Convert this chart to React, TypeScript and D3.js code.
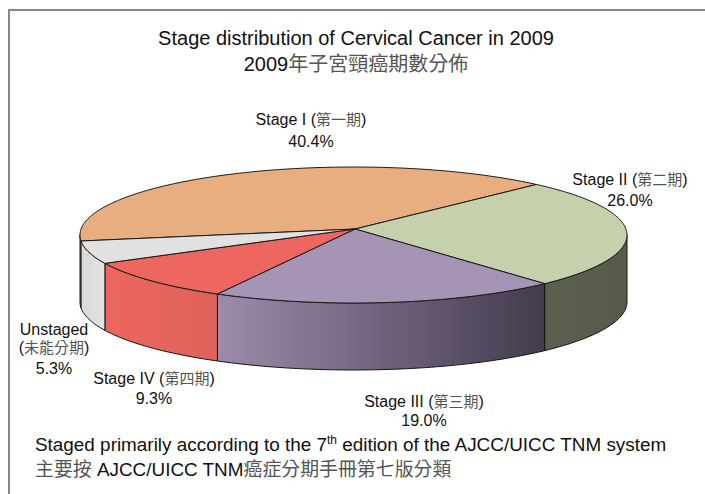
import React from "react";
import * as d3 from "d3";

const stages = ["Stage I", "Stage II", "Stage III", "Stage IV", "Unstaged"];
const shares = [40.4, 26.0, 19.0, 9.3, 5.3];
const topColors = ["#E8AE80", "#C5D1AC", "#A594B6", "#EE6660", "#E1E1E1"];
const sideStart = ["#E8AE80", "#5C6050", "#9C8CAC", "#EE6660", "#D8D8D8"];
const sideEnd = ["#E8AE80", "#565A48", "#433B4D", "#DD625A", "#E4E4E4"];

const W = 705, H = 494;
const cx = 353.5, cy = 235, rx = 273.5, ry = 68, depth = 67;
const apexX = 355, apexY = 229;
const perspective = 1.091;
const startDeg = 80;

const CJK = "#555";
const font = "'Liberation Sans', Arial, 'Noto Sans CJK TC', sans-serif";

const rad = (d: number) => (d * Math.PI) / 180;

// theta: true pie angle, 0 at the point nearest the viewer, growing clockwise on screen
const rim = (theta: number): [number, number] => {
  const psi = 2 * Math.atan2(perspective * Math.sin(theta / 2), Math.cos(theta / 2));
  return [cx - rx * Math.sin(psi), cy + ry * Math.cos(psi)];
};
const limit = 2 * Math.atan(1 / perspective);

const samples = (a0: number, a1: number) => {
  const n = Math.max(2, Math.ceil(((a1 - a0) * 180) / Math.PI));
  return d3.range(n + 1).map((i) => a0 + ((a1 - a0) * i) / n);
};
const line = d3.line<[number, number]>();

const sidePath = (a0: number, a1: number) => {
  const pts = samples(a0, a1);
  const top = pts.map(rim);
  const bot = pts.slice().reverse().map(rim).map(([x, y]) => [x, y + depth] as [number, number]);
  return line([...top, ...bot]) + "Z";
};
const topPath = (a0: number, a1: number) =>
  line([[apexX, apexY], ...samples(a0, a1).map(rim)]) + "Z";

function Label({ x, y, parts }: { x: number; y: number; parts: [string, boolean][] }) {
  return (
    <text x={x} y={y} textAnchor="middle" fontSize={16} fill="#111" fontFamily={font}>
      {parts.map(([t, c], i) => (
        <tspan key={i} fill={c ? CJK : "#111"} fontSize={c ? 15 : 16}>{t}</tspan>
      ))}
    </text>
  );
}

export default function App() {
  const pie = d3.pie<number>().sort(null).startAngle(rad(startDeg)).endAngle(rad(startDeg + 360));
  const slices = pie(shares);

  const sides = slices.flatMap((s, i) => {
    const out: { i: number; a0: number; a1: number }[] = [];
    for (const shift of [0, 2 * Math.PI]) {
      const a0 = Math.max(s.startAngle, -limit + shift);
      const a1 = Math.min(s.endAngle, limit + shift);
      if (a1 > a0) out.push({ i, a0, a1 });
    }
    return out;
  });

  return (
    <svg width={W} height={H} style={{ position: "fixed", left: 0, top: 0, background: "#fff" }}>
      <defs>
        {sides.map((s, k) => (
          <linearGradient key={k} id={`side${k}`} gradientUnits="userSpaceOnUse"
            x1={Math.min(rim(s.a0)[0], rim(s.a1)[0])} x2={Math.max(rim(s.a0)[0], rim(s.a1)[0])} y1={0} y2={0}>
            <stop offset="0" stopColor={sideStart[s.i]} />
            <stop offset="1" stopColor={sideEnd[s.i]} />
          </linearGradient>
        ))}
      </defs>
      <path d={`M9,${H}V10H${W}`} fill="none" stroke="#888" strokeWidth={2} />

      {sides.map((s, k) => (
        <path key={k} d={sidePath(s.a0, s.a1)} fill={`url(#side${k})`} stroke="#151515" strokeWidth={1} strokeLinejoin="round" />
      ))}
      {slices.map((s, i) => (
        <path key={stages[i]} d={topPath(s.startAngle, s.endAngle)} fill={topColors[i]} stroke="#1a1a1a" strokeWidth={1} strokeLinejoin="round" />
      ))}

      <g fontFamily={font}>
        <text x={356} y={45} textAnchor="middle" fontSize={20} fill="#111">Stage distribution of Cervical Cancer in 2009</text>
        <text x={356} y={71} textAnchor="middle" fontSize={20} fill="#111">2009<tspan fill={CJK}>年子宮頸癌期數分佈</tspan></text>
      </g>

      <Label x={311} y={125} parts={[["Stage I (", false], ["第一期", true], [")", false]]} />
      <Label x={311} y={147} parts={[["40.4%", false]]} />
      <Label x={630} y={185} parts={[["Stage II (", false], ["第二期", true], [")", false]]} />
      <Label x={630} y={206} parts={[["26.0%", false]]} />
      <Label x={424} y={407} parts={[["Stage III (", false], ["第三期", true], [")", false]]} />
      <Label x={424} y={426} parts={[["19.0%", false]]} />
      <Label x={154} y={384} parts={[["Stage IV (", false], ["第四期", true], [")", false]]} />
      <Label x={154} y={404} parts={[["9.3%", false]]} />
      <Label x={54} y={335} parts={[["Unstaged", false]]} />
      <Label x={54} y={353} parts={[["(", false], ["未能分期", true], [")", false]]} />
      <Label x={54} y={374} parts={[["5.3%", false]]} />

      <g fontFamily={font} fontSize={18.9} fill="#111">
        <text x={35} y={451}>Staged primarily according to the 7<tspan dy={-7} fontSize={12}>th</tspan><tspan dy={7}> edition of the AJCC/UICC TNM system</tspan></text>
        <text x={35} y={476}><tspan fill={CJK}>主要按</tspan> AJCC/UICC TNM<tspan fill={CJK}>癌症分期手冊第七版分類</tspan></text>
      </g>
    </svg>
  );
}
